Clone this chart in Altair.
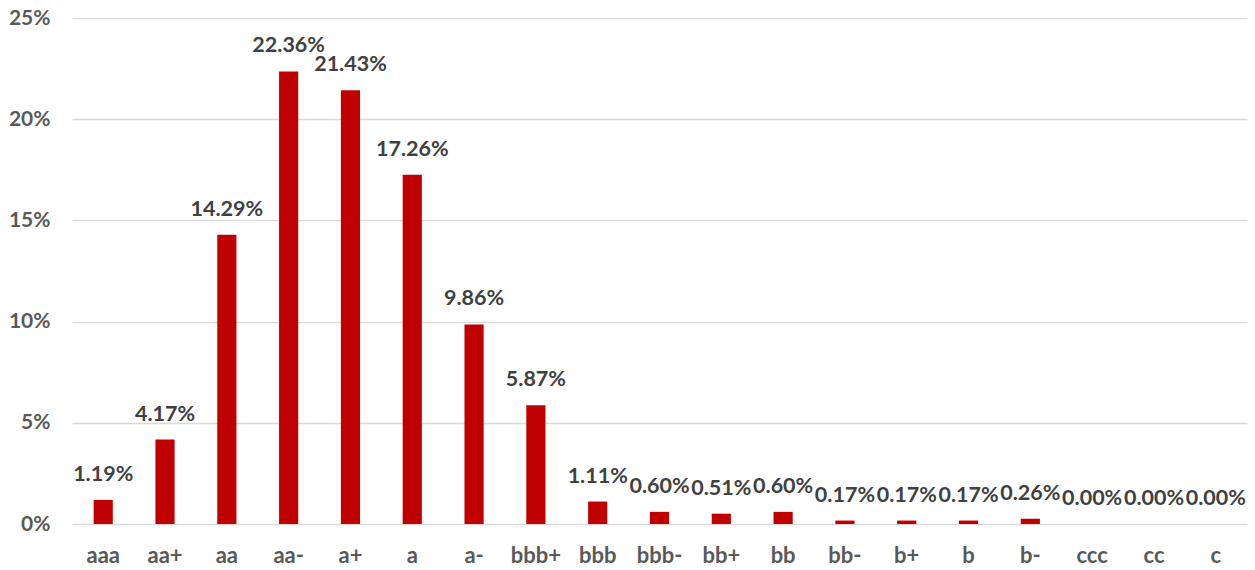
import altair as alt
import pandas as pd

# Rating buckets and their share of the portfolio (percent)
ratings = ["aaa", "aa+", "aa", "aa-", "a+", "a", "a-", "bbb+", "bbb", "bbb-",
           "bb+", "bb", "bb-", "b+", "b", "b-", "ccc", "cc", "c"]
shares = [1.19, 4.17, 14.29, 22.36, 21.43, 17.26, 9.86, 5.87, 1.11, 0.60,
          0.51, 0.60, 0.17, 0.17, 0.17, 0.26, 0.00, 0.00, 0.00]

df = pd.DataFrame({"rating": ratings, "share": [v / 100 for v in shares]})
df["label"] = [f"{v:.2f}%" for v in shares]

FONT = "Lato"

x = alt.X(
    "rating:N",
    sort=ratings,
    title=None,
    scale=alt.Scale(paddingInner=0.69, paddingOuter=0.35),
    axis=alt.Axis(labelAngle=0, labelFont=FONT, labelFontSize=22, labelFontWeight="bold",
                  labelColor="#595959", labelPadding=21, ticks=False, domain=False),
)
y = alt.Y(
    "share:Q",
    title=None,
    scale=alt.Scale(domain=[0, 0.25], nice=False),
    axis=alt.Axis(format=".0%", values=[0, 0.05, 0.10, 0.15, 0.20, 0.25],
                  labelFont=FONT, labelFontSize=21, labelFontWeight="bold",
                  labelColor="#595959", labelPadding=22, ticks=False, domain=False,
                  grid=True, gridColor="#d9d9d9", gridWidth=1.5),
)

bars = alt.Chart(df).mark_bar(color="#C00000").encode(x=x, y=y)

labels = alt.Chart(df).mark_text(
    font=FONT, fontSize=21.5, fontWeight="bold", color="#404040",
    baseline="alphabetic", dy=-19,
).encode(x=x, y=y, text="label:N")

chart = (bars + labels).properties(
    width=1175, height=506,
    autosize=alt.AutoSizeParams(type="none"),
    padding={"left": 72, "top": 18, "right": 8, "bottom": 46},
    background="white",
).configure_view(stroke=None)

chart.save("out.html", embed_options={"renderer": "svg", "actions": False})
